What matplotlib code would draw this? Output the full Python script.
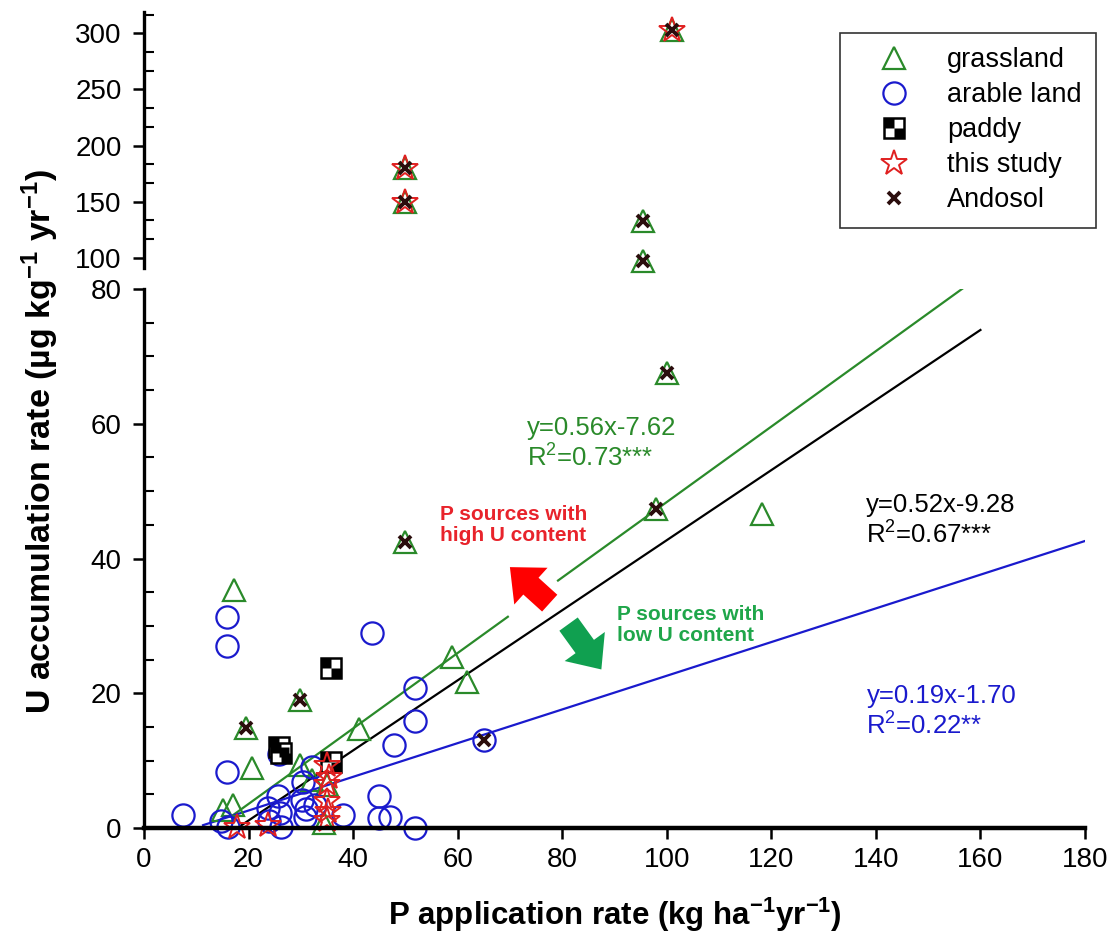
import matplotlib
matplotlib.use("Agg")
import matplotlib.pyplot as plt
import numpy as np
from matplotlib.path import Path
from matplotlib.patches import FancyArrowPatch
from matplotlib.ticker import MultipleLocator

plt.rcParams["font.family"] = ["Liberation Sans", "DejaVu Sans"]
plt.rcParams["mathtext.default"] = "regular"

# values
grass_x = [101, 50, 50, 95.4, 95.4, 100, 98, 118.2, 50, 17.2, 58.9, 61.8, 41.1, 29.8,
           19.6, 20.6, 29.8, 32.2, 35, 15.1, 17, 34.4]
grass_y = [303, 180, 150, 133, 97.5, 67.5, 47.3, 46.6, 42.4, 35.3, 25.4, 21.7, 14.7, 19,
           14.8, 8.9, 9.3, 7.1, 6.4, 2.7, 3.4, 0.7]

arable_x = [15.9, 15.9, 43.7, 51.9, 51.9, 47.8, 65.1, 15.9, 7.4, 45, 45, 47, 51.9, 38.1,
            25.8, 32.2, 30.4, 25.7, 23.7, 30.2, 31.0, 30.8, 32.8, 26, 26.3, 24.0, 14.7, 16.1]
arable_y = [31.3, 27.0, 28.9, 20.8, 15.9, 12.3, 13.1, 8.3, 1.9, 4.8, 1.5, 1.7, 0, 1.9,
            11.0, 9.1, 6.9, 4.7, 2.9, 4.2, 2.8, 1.7, 3.4, 2.2, 0.1, 1.0, 1.0, 0.1]

paddy_x = [35.8, 25.9, 26.3, 35.8]
paddy_y = [23.7, 12.0, 11.2, 9.8]

study_x = [101, 50, 50, 35, 35.4, 35, 35, 35.2, 35, 17.8, 23.8]
study_y = [303, 180, 150, 9.3, 7.6, 6.6, 4.0, 2.6, 1.2, 0.2, 0.5]

andosol_x = [101, 50, 50, 95.4, 95.4, 100, 98, 50, 29.8, 19.6, 65.1]
andosol_y = [303, 180, 150, 133, 97.5, 67.5, 47.3, 42.4, 19, 14.8, 13.1]

# regression lines as drawn (slope, intercept, x range)
fit_slope = [0.56, 0.52, 0.25]
fit_icpt = [-7.62, -9.28, -2.4]
fit_x0 = [16.8, 17.85, 11.3]
fit_x1 = [156.7, 160, 180]
fit_gap = [(69.6, 79.2), None, None]
fit_color = ["#2a8a2a", "black", "#1a1acd"]

eq_text = ["y=0.56x-7.62\nR$^2$=0.73***", "y=0.52x-9.28\nR$^2$=0.67***",
           "y=0.19x-1.70\nR$^2$=0.22**"]
eq_pos = [(73.3, 57.0), (138.1, 45.6), (138.2, 17.2)]
eq_color = ["#2a8a2a", "black", "#1a1acd"]

grass_c = "#2a8a2a"
arable_c = "#1a1acd"
star_c = "#e02020"
ando_c = "#2b0d0d"

fig = plt.figure(figsize=(11.12, 9.46), dpi=100)
ax = fig.add_axes([0.1295, 0.1247, 0.8462, 0.5698])
axt = fig.add_axes([0.1295, 0.7167, 0.8462, 0.2706])

# checkerboard marker for paddy
quad = Path([(-1, 0), (0, 0), (0, 1), (-1, 1), (-1, 0),
             (0, -1), (1, -1), (1, 0), (0, 0), (0, -1)],
            [Path.MOVETO, Path.LINETO, Path.LINETO, Path.LINETO, Path.CLOSEPOLY] * 2)


def pick(xs, ys, top):
    xs, ys = np.asarray(xs), np.asarray(ys)
    m = ys > 85 if top else ys <= 85
    return xs[m], ys[m]


def draw_points(a, top):
    kw = dict(linestyle="none", clip_on=False)
    h1, = a.plot(*pick(grass_x, grass_y, top), marker="^", ms=16, mfc="none",
                 mec=grass_c, mew=1.6, **kw)
    h2, = a.plot(*pick(arable_x, arable_y, top), marker="o", ms=16, mfc="none",
                 mec=arable_c, mew=1.6, **kw)
    h3a, = a.plot(*pick(paddy_x, paddy_y, top), marker="s", ms=15, mfc="white",
                  mec="black", mew=1.8, **kw)
    h3b, = a.plot(*pick(paddy_x, paddy_y, top), marker=quad, ms=15, mfc="black",
                  mec="none", **kw)
    h4, = a.plot(*pick(study_x, study_y, top), marker="*", ms=19, mfc="none",
                 mec=star_c, mew=1.4, **kw)
    h5, = a.plot(*pick(andosol_x, andosol_y, top), marker="x", ms=9, mec=ando_c,
                 mew=2.8, **kw)
    return [h1, h2, (h3a, h3b), h4, h5]


for k in range(3):
    if fit_gap[k] is None:
        segs = [(fit_x0[k], fit_x1[k])]
    else:
        segs = [(fit_x0[k], fit_gap[k][0]), (fit_gap[k][1], fit_x1[k])]
    for s0, s1 in segs:
        xs = np.array([s0, s1])
        ax.plot(xs, fit_slope[k] * xs + fit_icpt[k], color=fit_color[k], lw=1.6, zorder=1)

handles = draw_points(ax, False)
draw_points(axt, True)

for t, (x, y), c in zip(eq_text, eq_pos, eq_color):
    ax.text(x, y, t, color=c, fontsize=18.5, ha="left", va="center")

ax.text(56.6, 45.0, "P sources with\nhigh U content", color="#e8232b", fontsize=15,
        fontweight="bold", ha="left", va="center", linespacing=1.15)
ax.text(90.5, 30.1, "P sources with\nlow U content", color="#1fa64a", fontsize=15,
        fontweight="bold", ha="left", va="center", linespacing=1.15)

astyle = "simple,head_length=0.6,head_width=1.05,tail_width=0.48"
ax.add_patch(FancyArrowPatch((78.0, 33.1), (69.6, 39.0), arrowstyle=astyle,
                             mutation_scale=34, color="#ff0000", lw=0, zorder=3))
ax.add_patch(FancyArrowPatch((80.9, 30.6), (87.8, 23.2), arrowstyle=astyle,
                             mutation_scale=34, color="#10a050", lw=0, zorder=3))

# axes styling
ax.set_xlim(0, 180)
ax.set_ylim(0, 80)
axt.set_xlim(0, 180)
axt.set_ylim(91, 319)

for a in (ax, axt):
    a.spines["top"].set_visible(False)
    a.spines["right"].set_visible(False)
    a.spines["left"].set_linewidth(2.4)
    a.tick_params(axis="y", which="major", direction="out", length=8, width=1.8,
                  labelsize=20, pad=8)
    a.tick_params(axis="y", which="minor", direction="in", length=7, width=1.5)
    a.patch.set_alpha(0)

axt.spines["bottom"].set_visible(False)
axt.tick_params(axis="x", which="both", bottom=False, labelbottom=False)
axt.yaxis.set_minor_locator(MultipleLocator(50 / 3))
axt.set_yticks([100, 150, 200, 250, 300])

ax.spines["bottom"].set_linewidth(3.2)
ax.set_xticks(np.arange(0, 181, 20))
ax.yaxis.set_major_locator(MultipleLocator(20))
ax.yaxis.set_minor_locator(MultipleLocator(5))
ax.tick_params(axis="x", direction="out", length=8, width=1.8, labelsize=20, pad=6)

ax.set_xlabel("P application rate (kg ha$^{-1}$yr$^{-1}$)", fontsize=22.5,
              fontweight="bold", labelpad=16)
fig.text(0.036, 0.533, "U accumulation rate (\u00b5g kg$^{-1}$ yr$^{-1}$)", fontsize=24.5,
         fontweight="bold", rotation=90, ha="center", va="center")

leg = axt.legend(handles, ["grassland", "arable land", "paddy", "this study", "Andosol"],
                 loc="upper right", bbox_to_anchor=(1110 / 1112, 927 / 946),
                 bbox_transform=fig.transFigure, fontsize=19.5, frameon=True, fancybox=False,
                 edgecolor="black", handlelength=2.9, handletextpad=0.5,
                 labelspacing=0.33, borderpad=0.55, numpoints=1)
leg.get_frame().set_linewidth(1.2)
leg.set_zorder(10)

fig.savefig("out.png", dpi=100, facecolor="white")
